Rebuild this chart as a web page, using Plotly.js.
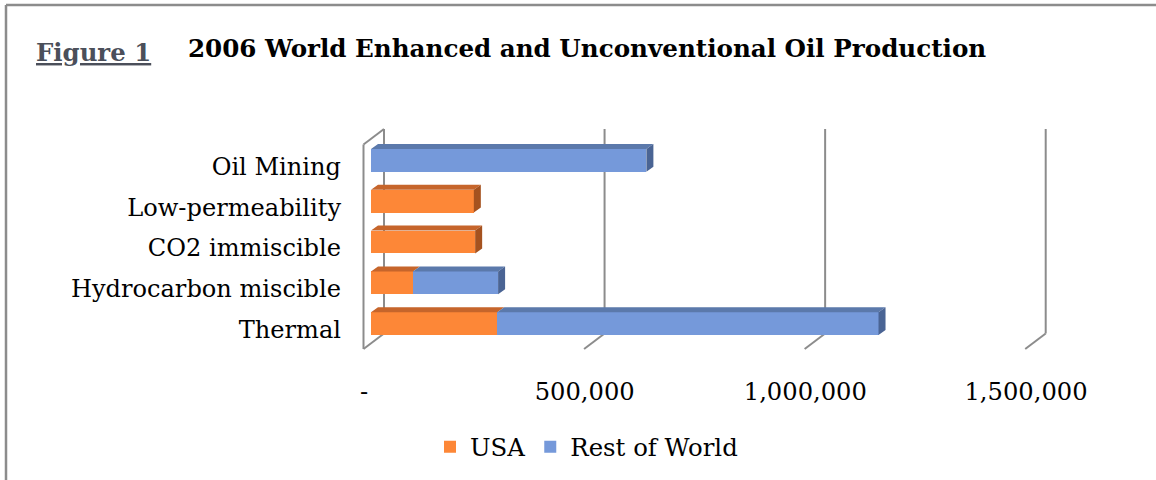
<!DOCTYPE html>
<html>
<head>
<meta charset="utf-8">
<script src="https://cdn.plot.ly/plotly-3.0.1.min.js"></script>
<style>
  html, body { margin: 0; padding: 0; background: #ffffff; }
  #chart { width: 1156px; height: 480px; }
</style>
</head>
<body>
<div id="chart"></div>
<script>
// 2006 enhanced and unconventional oil production, barrels per day
const categories = ['Thermal', 'Hydrocarbon miscible', 'CO2 immiscible', 'Low-permeability', 'Oil Mining'];
const usa = [286000, 95000, 236000, 233000, 0];
const restOfWorld = [864000, 193000, 0, 0, 624000];
const seriesNames = ['USA', 'Rest of World'];
const xTickVals = [0, 500000, 1000000, 1500000];
const xTickText = ['-', '500,000', '1,000,000', '1,500,000'];

// colours: front face, top face, end face
const palette = [
  { front: '#FD8737', top: '#C6652B', side: '#A5521F' },
  { front: '#7599DA', top: '#5B79AB', side: '#4A6494' }
];

// page geometry (px)
const W = 1156, H = 480;
const M = { l: 371, r: 123, t: 140, b: 136 };
const PW = W - M.l - M.r, PH = H - M.t - M.b;
const X_MAX = 1500000;
const Y_RANGE = [-0.5, categories.length - 0.5];
const BAR_W = 0.56;
const DEPTH = { dx: 7, dy: 5 };              // bar extrusion
const WALL = { x0: 384, x1: 1045.7, top: 129, bottom: 333.5, dx: -20.5, dy: 15.5 };
const GRID = '#8C8C8C';

const fx = px => (px - M.l) / PW;
const fy = py => (M.t + PH - py) / PH;

const yIdx = categories.map((_, i) => i);
const seriesValues = [usa, restOfWorld];

// front faces of the stacked bars
const traces = seriesValues.map((vals, s) => ({
  type: 'bar',
  orientation: 'h',
  name: seriesNames[s],
  x: vals,
  y: yIdx,
  width: BAR_W,
  marker: { color: palette[s].front, line: { width: 0 } },
  hoverinfo: 'x+name'
}));

// top and end faces of each bar, drawn in data units
const ddx = DEPTH.dx * X_MAX / PW;
const ddy = DEPTH.dy * (Y_RANGE[1] - Y_RANGE[0]) / PH;
const tops = [{ x: [], y: [] }, { x: [], y: [] }];
const sides = [{ x: [], y: [] }, { x: [], y: [] }];
categories.forEach((_, i) => {
  let base = 0, last = -1;
  const yt = i + BAR_W / 2, yb = i - BAR_W / 2;
  seriesValues.forEach((vals, s) => {
    const v = vals[i];
    if (v > 0) {
      const e = base + v;
      tops[s].x.push(base, base + ddx, e + ddx, e, base, null);
      tops[s].y.push(yt, yt + ddy, yt + ddy, yt, yt, null);
      base = e;
      last = s;
    }
  });
  if (last >= 0) {
    sides[last].x.push(base, base + ddx, base + ddx, base, base, null);
    sides[last].y.push(yt, yt + ddy, yb + ddy, yb, yt, null);
  }
});
[tops, sides].forEach((group, g) => group.forEach((p, s) => {
  traces.push({
    type: 'scatter', mode: 'lines', x: p.x, y: p.y,
    fill: 'toself', fillcolor: g === 0 ? palette[s].top : palette[s].side,
    line: { width: 0, color: g === 0 ? palette[s].top : palette[s].side },
    hoverinfo: 'skip', showlegend: false
  });
}));

// back wall gridlines, floor edges and side wall
const shapes = [];
const line = (x0, y0, x1, y1, w) => shapes.push({
  type: 'line', xref: 'paper', yref: 'paper', layer: 'below',
  x0: fx(x0), y0: fy(y0), x1: fx(x1), y1: fy(y1),
  line: { color: GRID, width: w || 2 }
});
xTickVals.forEach(v => {
  const bx = WALL.x0 + v / X_MAX * (WALL.x1 - WALL.x0);
  line(bx, WALL.top, bx, WALL.bottom);
  line(bx, WALL.bottom, bx + WALL.dx, WALL.bottom + WALL.dy);
});
line(WALL.x0, WALL.top, WALL.x0 + WALL.dx, WALL.top + WALL.dy);
line(WALL.x0 + WALL.dx, WALL.top + WALL.dy, WALL.x0 + WALL.dx, WALL.bottom + WALL.dy);

// outer frame
line(6, 5, W + 5, 5, 2.5);
line(6, 5, 6, H + 5, 2.5);

const serif = 'DejaVu Serif, Liberation Serif, serif';

const layout = {
  width: W, height: H,
  margin: M,
  paper_bgcolor: '#ffffff',
  plot_bgcolor: 'rgba(0,0,0,0)',
  barmode: 'stack',
  bargap: 0,
  font: { family: serif, color: '#000000', size: 24 },
  title: {
    text: '<b>2006 World Enhanced and Unconventional Oil Production</b>',
    font: { family: serif, size: 24.6, color: '#000000' },
    xref: 'container', yref: 'container',
    x: 188 / W, xanchor: 'left',
    y: 1 - 48 / H, yanchor: 'middle'
  },
  annotations: [{
    text: '<b><u>Figure 1</u></b>',
    xref: 'paper', yref: 'paper',
    x: fx(34), y: fy(52), xanchor: 'left', yanchor: 'middle',
    showarrow: false,
    font: { family: serif, size: 24.4, color: '#4B4F5A' }
  }],
  xaxis: {
    range: [0, X_MAX],
    tickvals: xTickVals, ticktext: xTickText,
    showgrid: false, zeroline: false, showline: false,
    ticks: '', ticklabelshift: -7, ticklabelstandoff: 31,
    tickfont: { family: serif, size: 24.2, color: '#000000' },
    fixedrange: true
  },
  yaxis: {
    range: Y_RANGE,
    tickvals: yIdx, ticktext: categories,
    showgrid: false, zeroline: false, showline: false,
    ticks: '', ticklabelstandoff: 29, ticklabelshift: 6,
    tickfont: { family: serif, size: 24.1, color: '#000000' },
    fixedrange: true
  },
  legend: {
    orientation: 'h',
    xref: 'container', yref: 'container',
    x: 430 / W, xanchor: 'left',
    y: 1 - 447 / H, yanchor: 'middle',
    font: { family: serif, size: 24.4, color: '#000000' },
    traceorder: 'normal',
    bgcolor: 'rgba(0,0,0,0)'
  },
  shapes: shapes,
  showlegend: true
};

Plotly.newPlot('chart', traces, layout, { displayModeBar: false, staticPlot: true });
</script>
</body>
</html>
